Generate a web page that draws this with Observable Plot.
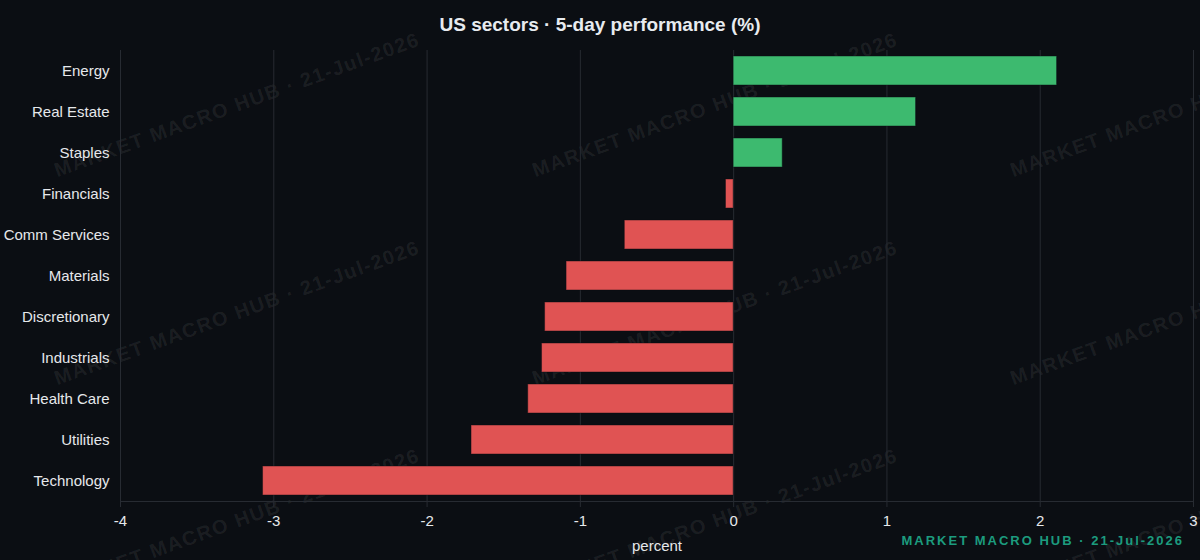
<!DOCTYPE html>
<html>
<head>
<meta charset="utf-8">
<script src="https://cdn.jsdelivr.net/npm/d3@7"></script>
<script src="https://cdn.jsdelivr.net/npm/@observablehq/plot@0.6"></script>
<style>
  html, body { margin: 0; padding: 0; background: #0b0e13; }
  body { width: 1200px; height: 560px; overflow: hidden; position: relative;
         font-family: "Liberation Sans", Arial, Helvetica, sans-serif; }
  .wm { position: absolute; white-space: nowrap; font-weight: bold; font-size: 20px;
        letter-spacing: 1.5px; color: rgba(255,255,255,0.075);
        transform: translate(-50%, -50%) rotate(-20deg); z-index: 0; pointer-events: none; }
  #title { position: absolute; left: 0; top: 14px; width: 1200px; text-align: center;
           font-size: 19px; font-weight: bold; color: #e8ebef; z-index: 2; }
  #chart { position: absolute; left: 0; top: 40px; z-index: 1; }
  #brand { position: absolute; right: 16px; top: 533px; font-size: 13px; font-weight: bold;
           letter-spacing: 2px; color: #1c9b7e; z-index: 2; }
</style>
</head>
<body>
<div id="title">US sectors · 5-day performance (%)</div>
<div id="chart"></div>
<div id="brand">MARKET MACRO HUB · 21-Jul-2026</div>
<script>
const sectors = ["Energy", "Real Estate", "Staples", "Financials", "Comm Services", "Materials",
                 "Discretionary", "Industrials", "Health Care", "Utilities", "Technology"];
const values = [2.11, 1.19, 0.32, -0.05, -0.71, -1.09, -1.23, -1.25, -1.34, -1.71, -3.07];
const xTicks = [-4, -3, -2, -1, 0, 1, 2, 3];
const xLabel = "percent";
const watermarkText = "MARKET MACRO HUB · 21-Jul-2026";

const data = sectors.map((s, i) => ({sector: s, value: values[i]}));

// watermark tiles (decorative)
const wmX = [237, 715, 1193];
const wmY = [105, 313, 521];
for (const cy of wmY) for (const cx of wmX) {
  const d = document.createElement("div");
  d.className = "wm";
  d.textContent = watermarkText;
  d.style.left = cx + "px";
  d.style.top = cy + "px";
  document.body.appendChild(d);
}

const gridColor = "#272b32";
const green = "#3dba6f";
const red = "#e05353";

const chart = Plot.plot({
  width: 1200,
  height: 520,
  marginLeft: 120,
  marginRight: 7,
  marginTop: 10,
  marginBottom: 59,
  style: {background: "transparent", color: "#e6e8eb", fontSize: "15px",
          fontFamily: '"Liberation Sans", Arial, Helvetica, sans-serif'},
  x: {domain: [-4, 3]},
  y: {domain: sectors, paddingInner: 0.3, paddingOuter: 0.15},
  marks: [
    Plot.gridX(xTicks, {stroke: gridColor, strokeOpacity: 1}),
    Plot.frame({anchor: "bottom", stroke: gridColor}),
    Plot.barX(data, {x: "value", y: "sector",
      fill: d => d.value >= 0 ? green : red,
      stroke: "#0b0e13", strokeOpacity: 0.45, strokeWidth: 1}),
    Plot.axisX({ticks: xTicks, tickSize: 6, tickPadding: 8, stroke: gridColor, fontSize: 15,
      fill: "#e6e8eb", label: null, tickFormat: d => String(d).replace("−", "-")}),
    Plot.axisY({tickSize: 0, tickPadding: 11, label: null, fill: "#e6e8eb", fontSize: 15}),
    Plot.text([xLabel], {frameAnchor: "bottom", dy: 49, text: d => d, fill: "#e6e8eb", fontSize: 15})
  ]
});
document.getElementById("chart").appendChild(chart);
</script>
</body>
</html>
